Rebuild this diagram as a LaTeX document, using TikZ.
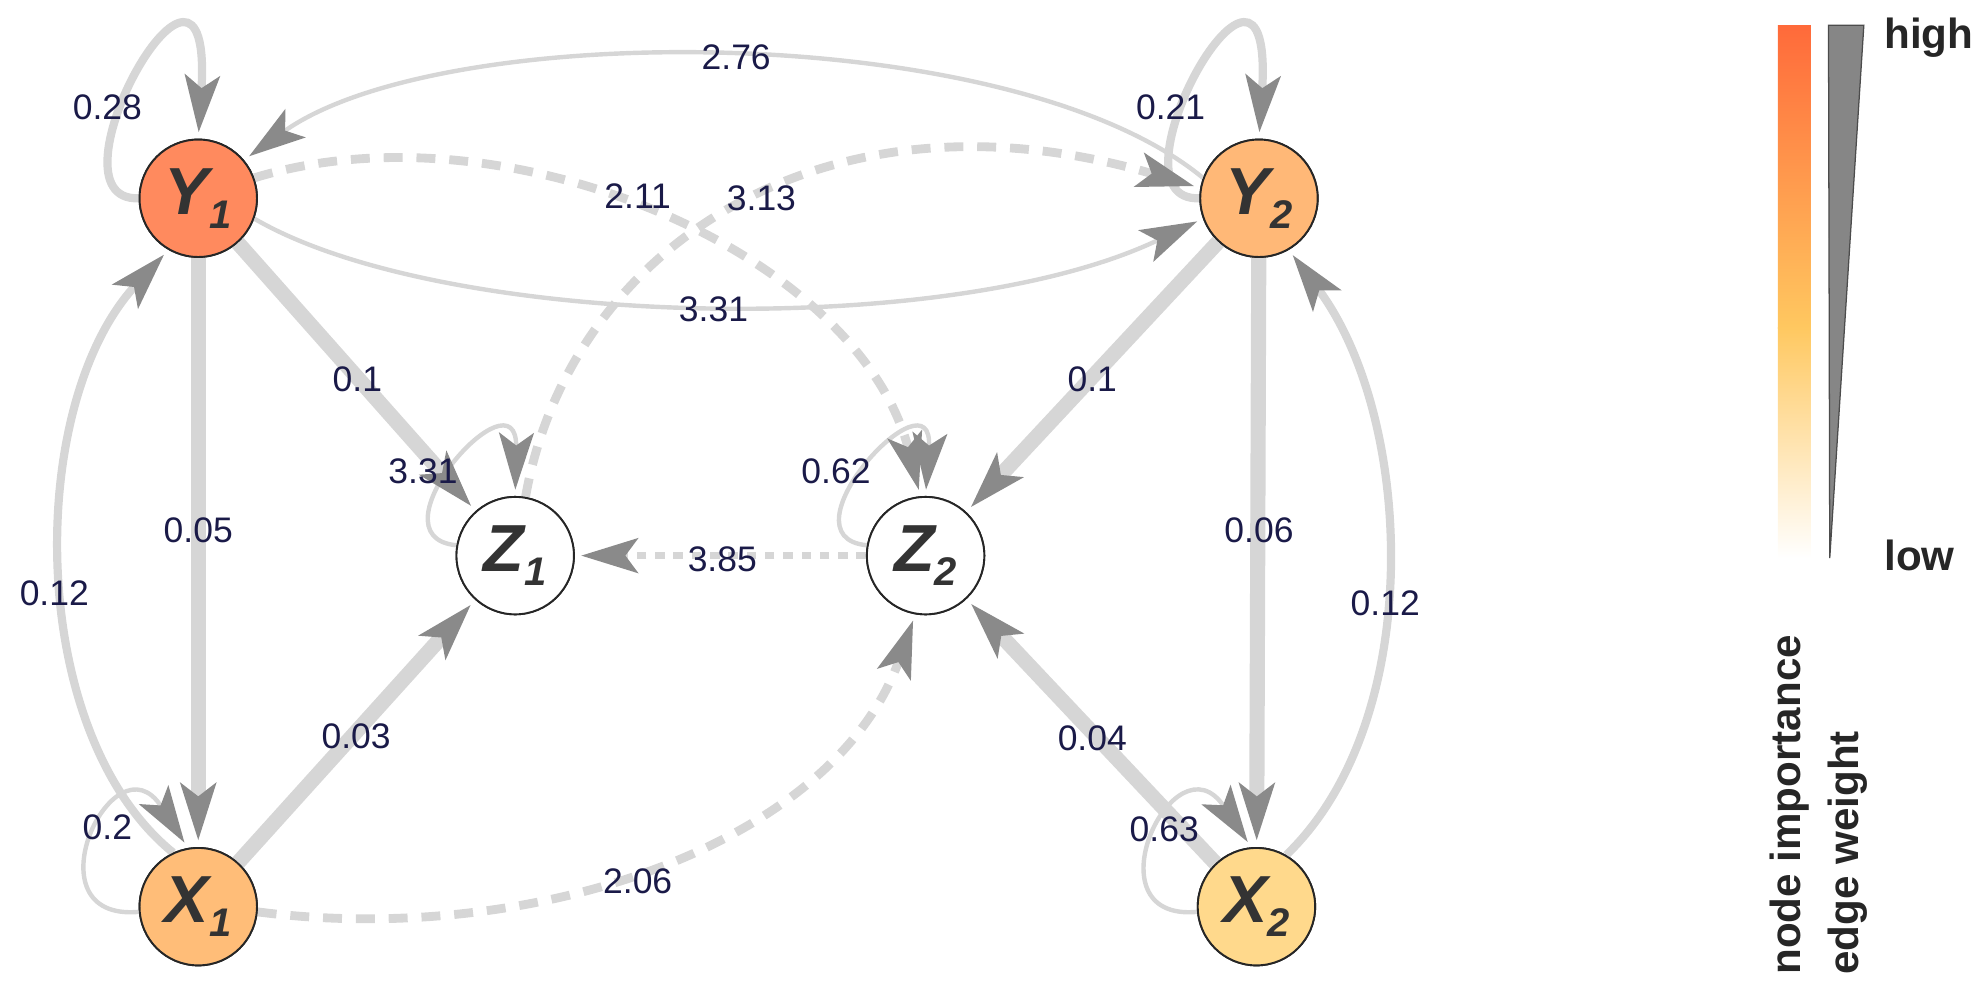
\documentclass[tikz,border=0pt]{standalone}
\usepackage{fontspec}
\setmainfont{Liberation Sans}
\usetikzlibrary{arrows.meta}
\definecolor{egray}{HTML}{D6D6D6}
\definecolor{agray}{HTML}{8A8A8A}
\definecolor{lblue}{HTML}{1A1A48}
\definecolor{ncY1}{HTML}{FF8A5E}
\definecolor{ncY2}{HTML}{FFB877}
\definecolor{ncX1}{HTML}{FFBD78}
\definecolor{ncX2}{HTML}{FFD98C}
\definecolor{gtop}{HTML}{FF6A3A}
\definecolor{gmid}{HTML}{FFC860}
\tikzset{
  vnode/.style={circle,draw=black!85,line width=0.03cm,minimum size=1.86cm,inner sep=0pt,text=black!80,font=\fontsize{30}{32}\selectfont\bfseries\itshape},
  wl/.style={text=lblue,font=\fontsize{16}{18}\selectfont,inner sep=1pt},
  tip/.style={-{Stealth[length=0.9cm,width=0.55cm,inset=0.2cm,color=agray]}},
  edg/.style={draw=egray,tip,shorten >=0.1cm},
  wide/.style={edg,line width=0.24cm},
  mid/.style={edg,line width=0.13cm},
  thin/.style={edg,line width=0.07cm},
  dsh/.style={edg,line width=0.14cm,dash pattern=on 0.3cm off 0.22cm},
}
\newcommand{\lab}[2]{#1\raisebox{-0.4ex}{\fontsize{18}{18}\selectfont #2}}
\begin{document}
\begin{tikzpicture}[x=0.02cm,y=-0.02cm]
\useasboundingbox (0,0) rectangle (1568,789);
% nodes
\node[vnode,fill=ncY1] (Y1) at (157,157) {\lab{Y}{1}};
\node[vnode,fill=ncY2] (Y2) at (997,157) {\lab{Y}{2}};
\node[vnode,fill=white] (Z1) at (408,440) {\lab{Z}{1}};
\node[vnode,fill=white] (Z2) at (733,440) {\lab{Z}{2}};
\node[vnode,fill=ncX1] (X1) at (157,718) {\lab{X}{1}};
\node[vnode,fill=ncX2] (X2) at (995,718) {\lab{X}{2}};
% self loops
\draw[mid] (Y1.180) .. controls (30,160) and (170,-90) .. (Y1.90);
\draw[mid] (Y2.180) .. controls (870,160) and (1010,-90) .. (Y2.90);
\draw[thin] (Z1.170) .. controls (290,425) and (410,290) .. (Z1.90);
\draw[thin] (Z2.170) .. controls (615,425) and (740,290) .. (Z2.90);
\draw[thin] (X1.185) .. controls (20,730) and (90,580) .. (X1.100);
\draw[thin] (X2.185) .. controls (860,730) and (930,580) .. (X2.95);
% curved thin
\draw[thin] (Y2.160) .. controls (800,15) and (350,15) .. (Y1.40);
\draw[thin] (Y1.-20) .. controls (350,260) and (750,270) .. (Y2.200);
% dashed
\draw[dsh] (Y1.20) .. controls (400,80) and (680,200) .. (Z2.95);
\draw[dsh] (Z1.80) .. controls (450,200) and (650,60) .. (Y2.170);
\draw[dsh] (X1.-5) .. controls (420,750) and (660,670) .. (Z2.-100);
\draw[edg,line width=0.1cm,dash pattern=on 0.15cm off 0.14cm] (Z2) -- (Z1);
% wide straight
\draw[wide] (Y1) -- (Z1);
\draw[wide] (Y1) -- (X1);
\draw[wide] (X1) -- (Z1);
\draw[wide] (Y2) -- (Z2);
\draw[wide] (Y2) -- (X2);
\draw[wide] (X2) -- (Z2);
% side arcs
\draw[mid] (X1.115) .. controls (20,580) and (20,320) .. (Y1.-120);
\draw[mid] (X2.60) .. controls (1130,570) and (1120,330) .. (Y2.-60);
% redraw nodes on top
\node[vnode,fill=ncY1] at (157,157) {\lab{Y}{1}};
\node[vnode,fill=ncY2] at (997,157) {\lab{Y}{2}};
\node[vnode,fill=white] at (408,440) {\lab{Z}{1}};
\node[vnode,fill=white] at (733,440) {\lab{Z}{2}};
\node[vnode,fill=ncX1] at (157,718) {\lab{X}{1}};
\node[vnode,fill=ncX2] at (995,718) {\lab{X}{2}};
% labels
\node[wl] (l1) at (85,85) {0.28};
\node[wl] (l2) at (583,45) {2.76};
\node[wl] (l3) at (927,85) {0.21};
\node[wl] (l4) at (505,155) {2.11};
\node[wl] (l5) at (603,157) {3.13};
\node[wl] (l6) at (565,245) {3.31};
\node[wl] (l7) at (283,300) {0.1};
\node[wl] (l8) at (865,300) {0.1};
\node[wl] (l9) at (335,373) {3.31};
\node[wl] (l10) at (662,373) {0.62};
\node[wl] (l11) at (157,420) {0.05};
\node[wl] (l12) at (997,420) {0.06};
\node[wl] (l13) at (43,470) {0.12};
\node[wl] (l14) at (1097,478) {0.12};
\node[wl] (l15) at (572,443) {3.85};
\node[wl] (l16) at (282,583) {0.03};
\node[wl] (l17) at (865,585) {0.04};
\node[wl] (l18) at (85,655) {0.2};
\node[wl] (l19) at (922,657) {0.63};
\node[wl] (l20) at (505,698) {2.06};
% legend
\shade[top color=gtop,bottom color=gmid] (1408,20) rectangle (1434,260);
\shade[top color=gmid,bottom color=white] (1408,259) rectangle (1434,442);
\filldraw[fill=gray!95,draw=black!70,line width=0.02cm] (1448,20) -- (1476,20) -- (1449,442) -- cycle;
\node[font=\fontsize{19}{20}\selectfont\bfseries,text=black!85,anchor=west] (hi) at (1486,30) {high};
\node[font=\fontsize{19}{20}\selectfont\bfseries,text=black!85,anchor=west] (lo) at (1486,440) {low};
\node[rotate=90,anchor=west,font=\fontsize{19}{20}\selectfont\bfseries,text=black!85] (ni) at (1417,778) {node importance};
\node[rotate=90,anchor=west,font=\fontsize{19}{20}\selectfont\bfseries,text=black!85] (ew) at (1463,778) {edge weight};
\end{tikzpicture}
\end{document}
